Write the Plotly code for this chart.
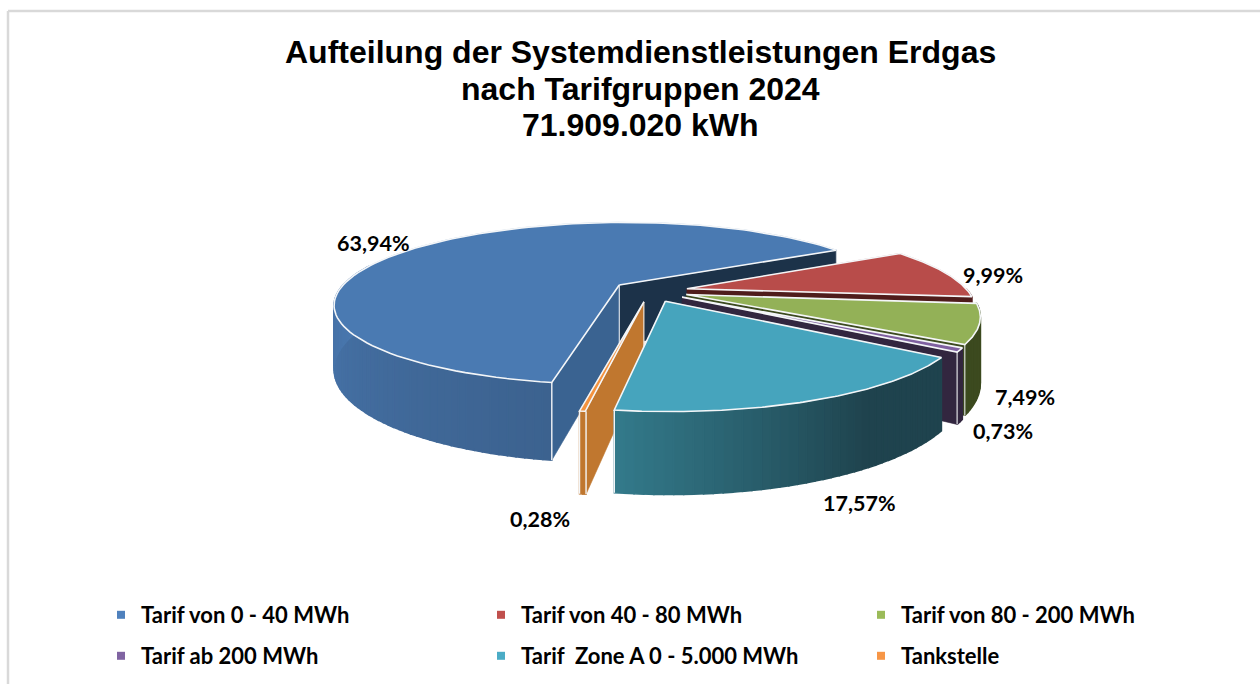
import math
import plotly.graph_objects as go

# ---- data ----
CATEGORIES = ["Tarif von 0 - 40 MWh", "Tarif von 40 - 80 MWh", "Tarif von 80 - 200 MWh",
              "Tarif ab 200 MWh", "Tarif  Zone A 0 - 5.000 MWh", "Tankstelle"]
VALUES = [63.94, 9.99, 7.49, 0.73, 17.57, 0.28]
TITLE_LINES = ["Aufteilung der Systemdienstleistungen Erdgas", "nach Tarifgruppen 2024", "71.909.020 kWh"]

# ---- styles ----
LEGEND_COL = ["#4f81bd", "#c0504d", "#9bbb59", "#8064a2", "#4bacc6", "#f79646"]
TOP_COL = ["#4a7ab2", "#b84c4a", "#93b157", "#7f60a0", "#46a4bd", "#f4933f"]
FACE_COL = [("#3a6391", "#1c3249"), (None, "#4f1c1b"), (None, "#3c4a1f"),
            (None, "#32263f"), (None, None), ("#c0772f", None)]
WALL_GRAD = [("#3c628f", "#4a79b1"), ("#4f1c1b", "#4f1c1b"), ("#3c4a1f", "#3c4a1f"),
             ("#32263f", "#32263f"), ("#1f434e", "#337a8b"), ("#c0772f", "#c0772f")]
LABEL_POS = [(373, 243), (993, 275), (1025, 397), (1003, 431), (859, 503), (540, 519)]
TITLE_Y = [52, 89, 125]
DRAW_ORDER = [0, 1, 2, 3, 5, 4]

# ---- pie geometry (3D projection) ----
CX, CY, RAD, EXPL, HEIGHT = 650.0, 291.0, 281.0, 38.0, 61.5
PERSP, FLAT, START = 0.23, 0.283, 189.5


def proj(px, py, z=0.0):
    w = 1.0 / (1.0 + PERSP * py / RAD)
    return CX + px * w, CY - FLAT * py * w + z * w


def mix(c1, c2, t):
    a = [int(c1[i:i + 2], 16) for i in (1, 3, 5)]
    b = [int(c2[i:i + 2], 16) for i in (1, 3, 5)]
    return "rgb(%d,%d,%d)" % tuple(round(p + (q - p) * t) for p, q in zip(a, b))


fig = go.Figure()


def poly(pts, col, lw=0.6):
    fig.add_trace(go.Scatter(x=[p[0] for p in pts] + [pts[0][0]], y=[p[1] for p in pts] + [pts[0][1]],
                             mode="lines", fill="toself", fillcolor=col, line=dict(color=col, width=lw),
                             hoverinfo="skip", showlegend=False))


def edge(pts, width=1.6):
    fig.add_trace(go.Scatter(x=[p[0] for p in pts], y=[p[1] for p in pts], mode="lines",
                             line=dict(color="#f4f6f8", width=width), hoverinfo="skip", showlegend=False))


angles = []
a = START
for v in VALUES:
    s = a % 360
    angles.append((s, s + v * 3.6))
    a += v * 3.6

for i in DRAW_ORDER:
    a0, a1 = angles[i]
    mid = math.radians((a0 + a1) / 2)
    ox, oy = EXPL * math.sin(mid), EXPL * math.cos(mid)

    def rim(deg, z=0.0):
        t = math.radians(deg)
        return proj(ox + RAD * math.sin(t), oy + RAD * math.cos(t), z)

    centre, centre_b = proj(ox, oy), proj(ox, oy, HEIGHT)
    start_col, end_col = FACE_COL[i]
    if end_col:
        poly([centre, rim(a1), rim(a1, HEIGHT), centre_b], end_col)
        edge([rim(a1), rim(a1, HEIGHT)], 0.8)
    # outer wall: visible part only
    lo, hi = max(a0, 90.0), min(a1, 285.0)
    if hi > lo:
        n = max(2, int((hi - lo) / 1.5))
        for k in range(n):
            d0, d1 = lo + (hi - lo) * k / n, lo + (hi - lo) * (k + 1) / n
            t = (k + 0.5) / n
            if i == 4:
                t = max(0.0, (t - 0.35) / 0.65)
            poly([rim(d0), rim(d1), rim(d1, HEIGHT), rim(d0, HEIGHT)], mix(WALL_GRAD[i][0], WALL_GRAD[i][1], t), 1.5)
    if start_col:
        poly([centre, rim(a0), rim(a0, HEIGHT), centre_b], start_col)
        edge([centre, centre_b], 1.0)
        edge([rim(a0), rim(a0, HEIGHT)], 1.4)
    arc = [rim(a0 + (a1 - a0) * k / 120) for k in range(121)]
    poly([centre] + arc, TOP_COL[i])
    edge([centre] + arc + [centre])
    if i in (4, 5):
        edge([rim(a1), rim(a1, HEIGHT)], 1.4)
    if i in (2, 3):
        edge([rim(a1), rim(a1, HEIGHT)], 1.0)

# legend entries
for i, (name, col) in enumerate(zip(CATEGORIES, LEGEND_COL)):
    fig.add_trace(go.Scatter(x=[None], y=[None], mode="markers", name=name,
                             marker=dict(symbol="square", size=8, color=col),
                             legend="legend" if i < 3 else "legend2"))

annotations = [dict(x=x, y=y, xref="x", yref="y", showarrow=False, text=("%.2f%%" % v).replace(".", ","),
                    font=dict(family="Lato", size=21.5, color="#000000", weight="bold"))
               for v, (x, y) in zip(VALUES, LABEL_POS)]
annotations += [dict(x=640, y=y, xref="x", yref="y", showarrow=False, text=t,
                     font=dict(family="Liberation Sans", size=32, color="#000000", weight="bold"))
                for t, y in zip(TITLE_LINES, TITLE_Y)]

leg = dict(orientation="h", x=116 / 1260, xanchor="left", yanchor="middle", entrywidth=350, entrywidthmode="pixels",
           indentation=-15, font=dict(family="Lato", size=22, color="#000000", weight="bold"),
           bgcolor="rgba(0,0,0,0)", itemclick=False, itemdoubleclick=False, traceorder="normal")

fig.update_layout(
    width=1260, height=684, margin=dict(l=0, r=0, t=0, b=0),
    paper_bgcolor="#ffffff", plot_bgcolor="#ffffff",
    xaxis=dict(range=[0, 1260], visible=False, fixedrange=True),
    yaxis=dict(range=[684, 0], visible=False, fixedrange=True),
    legend=dict(leg, y=1 - 615 / 684),
    legend2=dict(leg, y=1 - 656 / 684),
    annotations=annotations,
    shapes=[
        dict(type="line", xref="x", yref="y", x0=8, x1=8, y0=11, y1=684, line=dict(color="#d9d9d9", width=2.5)),
        dict(type="line", xref="x", yref="y", x0=8, x1=1260, y0=11, y1=11, line=dict(color="#d9d9d9", width=2.5)),
    ],
)
fig.write_html("out.html", config={"displayModeBar": False},
               post_script="document.body.style.margin='0';document.body.style.overflow='hidden';")
